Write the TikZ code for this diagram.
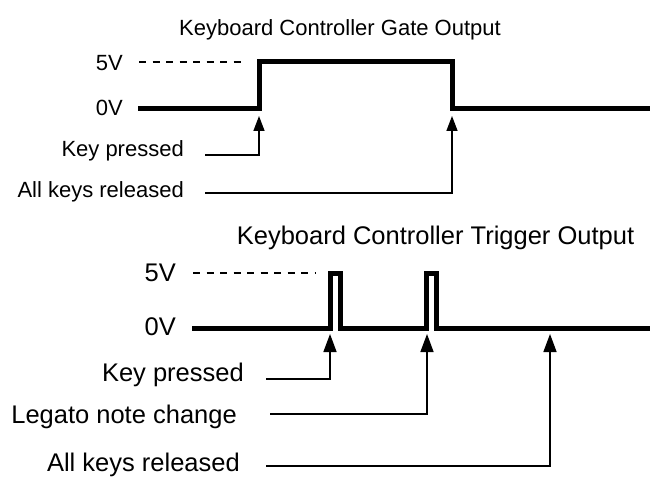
\documentclass[tikz,border=0pt]{standalone}
\usepackage{fontspec}
\setmainfont{Liberation Sans}
\usetikzlibrary{arrows.meta}
\begin{document}
\begin{tikzpicture}[x=1pt,y=-1pt,
  sig/.style={line width=5pt, line join=miter, line cap=butt},
  lvl/.style={line width=1.5pt, dash pattern=on 7pt off 6.5pt},
  conn/.style={line width=1.5pt},
  tipsmall/.style={-{Triangle[length=15pt,width=11pt]}},
  tipbig/.style={-{Triangle[length=18pt,width=13pt]}},
  lblA/.style={inner sep=0pt, font=\fontsize{22}{26}\selectfont},
  lblB/.style={inner sep=0pt, font=\fontsize{25.5}{30}\selectfont},
]
\useasboundingbox (0,0) rectangle (650,478);
% ---------- Gate output ----------
\node[lblA, anchor=base] (t1) at (340,36) {Keyboard Controller Gate Output};
\node[lblA, anchor=east] (v5a) at (123,63) {5V};
\node[lblA, anchor=east] (v0a) at (123,108) {0V};
\coordinate (d5a) at (139,62);
\coordinate (d5aE) at (246,62);
\draw[lvl] (d5a) -- (d5aE);
\coordinate (g0) at (138,109);
\coordinate (g1) at (259,109);
\coordinate (g2) at (259,62);
\coordinate (g3) at (452,62);
\coordinate (g4) at (452,109);
\coordinate (g5) at (652,109);
\draw[sig] (g0) -- (g1) -- (g2) -- (g3) -- (g4) -- (g5);
\node[lblA, anchor=base east] (kpa) at (184,157) {Key pressed};
\node[lblA, anchor=base east] (akra) at (184,198) {All keys released};
\coordinate (kpaS) at (205,155);
\coordinate (kpaT) at (259,116);
\coordinate (akraS) at (205,193);
\coordinate (akraT) at (452,116);
\draw[conn, tipsmall] (kpaS) -| (kpaT);
\draw[conn, tipsmall] (akraS) -| (akraT);
% ---------- Trigger output ----------
\node[lblB, anchor=base] (t2) at (435.5,245) {Keyboard Controller Trigger Output};
\node[lblB, anchor=east] (v5b) at (176,273) {5V};
\node[lblB, anchor=east] (v0b) at (176,327) {0V};
\coordinate (d5b) at (193,273);
\coordinate (d5bE) at (315,273);
\draw[lvl] (d5b) -- (d5bE);
\coordinate (p0) at (192,328);
\coordinate (p1) at (330,328);
\coordinate (p2) at (330,273);
\coordinate (p3) at (340,273);
\coordinate (p4) at (340,328);
\coordinate (p5) at (426,328);
\coordinate (p6) at (426,273);
\coordinate (p7) at (436,273);
\coordinate (p8) at (436,328);
\coordinate (p9) at (652,328);
\draw[sig] (p0) -- (p1) -- (p2) -- (p3) -- (p4) -- (p5) -- (p6) -- (p7) -- (p8) -- (p9);
\node[lblB, anchor=base east] (kpb) at (244,381) {Key pressed};
\node[lblB, anchor=base east] (lnc) at (237,423) {Legato note change};
\node[lblB, anchor=base east] (akrb) at (240,471.5) {All keys released};
\coordinate (kpbS) at (266,379);
\coordinate (kpbT) at (330,334);
\coordinate (lncS) at (270,414);
\coordinate (lncT) at (427,334);
\coordinate (akrbS) at (266,466);
\coordinate (akrbT) at (550,334);
\draw[conn, tipbig] (kpbS) -| (kpbT);
\draw[conn, tipbig] (lncS) -| (lncT);
\draw[conn, tipbig] (akrbS) -| (akrbT);
\end{tikzpicture}
\end{document}
